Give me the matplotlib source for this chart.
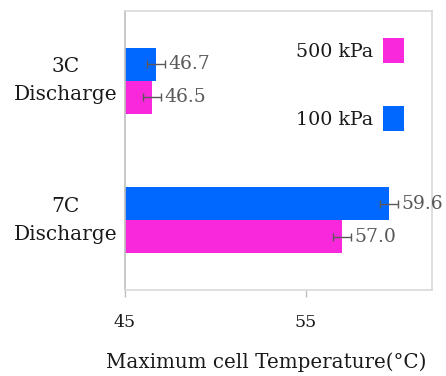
import matplotlib
matplotlib.use("Agg")
import matplotlib.pyplot as plt
import numpy as np
from matplotlib.patches import Patch

categories = ["3C\nDischarge", "7C\nDischarge"]
series_names = ["100 kPa", "500 kPa"]
temp_100kpa = [46.7, 59.6]
temp_500kpa = [46.5, 57.0]
err_100kpa = [0.5, 0.5]
err_500kpa = [0.5, 0.5]
x_ticks = [45, 55]
x_label = "Maximum cell Temperature(°C)"

blue = "#0068FF"
magenta = "#FA28DC"
grey_text = "#595959"
frame = "#D9D9D9"

plt.rcParams["font.family"] = ["DejaVu Serif"]

fig = plt.figure(figsize=(4.46, 3.76), dpi=100)
ax = fig.add_axes([0.2803, 0.2287, 0.6883, 0.742])

ypos = np.array([1.0, 0.0])
h = 0.238

ax.barh(ypos + h / 2, np.array(temp_100kpa) - 45, left=45, height=h,
        color=blue, edgecolor="none", zorder=2)
ax.barh(ypos - h / 2, np.array(temp_500kpa) - 45, left=45, height=h,
        color=magenta, edgecolor="none", zorder=2)

for vals, errs, off in [(temp_100kpa, err_100kpa, h / 2), (temp_500kpa, err_500kpa, -h / 2)]:
    ax.errorbar(vals, ypos + off, xerr=errs, fmt="none", ecolor=grey_text,
                elinewidth=1.0, capsize=3, capthick=1.0, zorder=3)
    for v, e, y in zip(vals, errs, ypos + off):
        ax.annotate(f"{v:.1f}", xy=(v + e, y), xytext=(2.5, 0), textcoords="offset points",
                    ha="left", va="center", fontsize=13.5, color=grey_text, zorder=4)

ax.set_xlim(45, 62)
ax.set_ylim(-0.5, 1.5)
ax.set_xticks(x_ticks)
ax.set_xticklabels([str(t) for t in x_ticks], fontsize=12.5, color="#1a1a1a")
ax.set_yticks(ypos)
ax.set_yticklabels(categories, fontsize=14.5, linespacing=1.6, color="#1a1a1a")
for t in ax.get_yticklabels():
    t.set_ha("center")
    t.set_va("center")
ax.tick_params(axis="y", length=0, pad=43)
ax.tick_params(axis="x", length=5, width=1, color="#BFBFBF", pad=12)

for side, sp in ax.spines.items():
    sp.set_color(frame)
    sp.set_linewidth(1.2)
ax.spines["left"].set_color("#BFBFBF")

ax.set_xlabel(x_label, fontsize=14.3, color="#1a1a1a", va="center")
ax.xaxis.set_label_coords(0.459, -0.258)

handles = [Patch(facecolor=magenta, edgecolor="none"), Patch(facecolor=blue, edgecolor="none")]
ax.legend(handles, ["500 kPa", "100 kPa"], loc="upper right",
          bbox_to_anchor=(0.96, 0.957), frameon=False, markerfirst=False,
          fontsize=13.7, handlelength=1.15, handleheight=1.6,
          labelspacing=2.3, handletextpad=0.5, borderpad=0.3,
          labelcolor="#1a1a1a")

fig.savefig("out.png", dpi=100, facecolor="white")
